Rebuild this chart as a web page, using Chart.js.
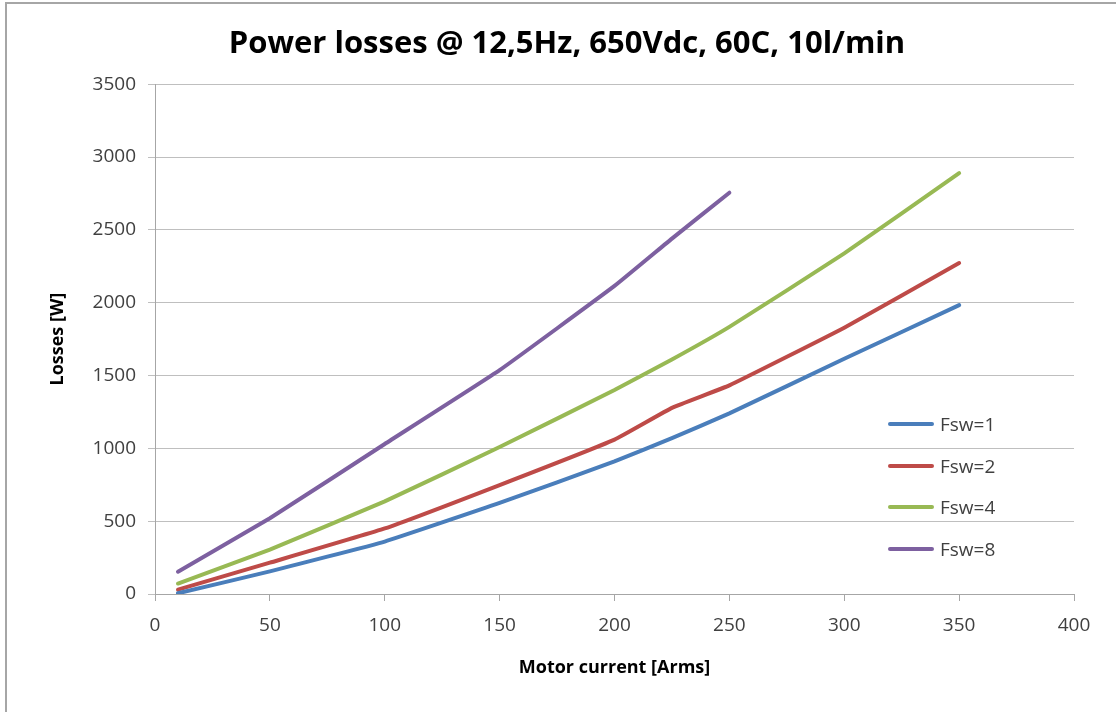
<!DOCTYPE html>
<html>
<head>
<meta charset="utf-8">
<script src="https://cdn.jsdelivr.net/npm/chart.js@4/dist/chart.umd.min.js"></script>
<style>
  html, body { margin: 0; padding: 0; background: #fff; }
  #wrap { position: relative; width: 1116px; height: 712px; overflow: hidden; }
  #frame { position: absolute; left: 5px; top: 2px; width: 1200px; height: 800px;
           border-left: 2px solid #a6a6a6; border-top: 2px solid #a6a6a6; }
  #myChart { position: absolute; left: 0; top: 0; }
  #legend { position: absolute; left: 888px; top: 403px; font-family: 'Open Sans', sans-serif;
            font-size: 19px; color: #404040; }
  .item { display: flex; align-items: center; height: 41.7px; }
  .swatch { width: 46px; height: 4px; border-radius: 2px; margin-right: 6px; }
</style>
</head>
<body>
<div id="wrap">
  <div id="frame"></div>
  <canvas id="myChart" width="1116" height="712"></canvas>
  <div id="legend"></div>
</div>
<script>
// DATA ---------------------------------------------------------------- START
var currentArms = [10, 50, 100, 150, 200, 225, 250, 300, 350];
var lossFsw1 = [5, 155, 360, 625, 910, 1070, 1240, 1615, 1983];
var lossFsw2 = [30, 215, 450, 748, 1060, 1278, 1432, 1828, 2272];
var lossFsw4 = [72, 305, 636, 1009, 1400, 1610, 1834, 2338, 2890];
var lossFsw8 = [153, 520, 1030, 1537, 2115, 2440, 2755, null, null];
var seriesNames = ['Fsw=1', 'Fsw=2', 'Fsw=4', 'Fsw=8'];
var seriesColors = ['#4a7ebb', '#be4b48', '#98b954', '#7d60a0'];
// DATA ---------------------------------------------------------------- END

function toPoints(values) {
  var pts = [];
  for (var i = 0; i < currentArms.length; i++) {
    if (values[i] !== null) pts.push({ x: currentArms[i], y: values[i] });
  }
  return pts;
}

var allSeries = [lossFsw1, lossFsw2, lossFsw4, lossFsw8];
var datasets = allSeries.map(function (vals, i) {
  return {
    label: seriesNames[i],
    data: toPoints(vals),
    borderColor: seriesColors[i],
    backgroundColor: seriesColors[i],
    borderWidth: 4,
    borderCapStyle: 'round',
    pointRadius: 0,
    tension: 0.1,
    fill: false
  };
});

var tickFont = { family: 'Open Sans', size: 19 };
var titleFont = { family: 'Open Sans', size: 18, weight: 'bold' };

var ctx = document.getElementById('myChart').getContext('2d');
var myChart = new Chart(ctx, {
  type: 'line',
  data: { datasets: datasets },
  options: {
    responsive: false,
    animation: false,
    devicePixelRatio: 1,
    // kiri 60 supaya judul tengahnya sama dengan area plot
    layout: { padding: { left: 60, right: 42, top: 0, bottom: 0 } },
    plugins: {
      legend: { display: false },
      tooltip: { enabled: false },
      title: {
        display: true,
        text: 'Power losses @ 12,5Hz, 650Vdc, 60C, 10l/min',
        color: '#000',
        font: { family: 'Open Sans', size: 31, weight: 'bold' },
        padding: { top: 26, bottom: 21 }
      }
    },
    scales: {
      x: {
        type: 'linear',
        min: 0,
        max: 400,
        ticks: { stepSize: 50, color: '#404040', font: tickFont, padding: 13 },
        grid: { drawOnChartArea: false, drawTicks: true, tickLength: 7, color: '#a6a6a6' },
        border: { color: '#a6a6a6', width: 1 },
        title: { display: true, text: 'Motor current [Arms]', color: '#000', font: titleFont,
                 padding: { top: 0, bottom: 33 } },
        afterFit: function (s) { s.height = 118; }
      },
      y: {
        min: 0,
        max: 3500,
        ticks: {
          stepSize: 500, color: '#404040', font: tickFont, padding: 12,
          callback: function (v) { return String(v); }
        },
        grid: { color: '#bfbfbf', tickLength: 7 },
        border: { color: '#a6a6a6', width: 1 },
        title: { display: true, text: 'Losses [W]', color: '#000', font: titleFont,
                 padding: { top: -13, bottom: 0 } },
        afterFit: function (s) { s.width = 95; }
      }
    }
  }
});

// legend html dari dataset
var legendBox = document.getElementById('legend');
myChart.data.datasets.forEach(function (ds) {
  var row = document.createElement('div');
  row.className = 'item';
  var sw = document.createElement('span');
  sw.className = 'swatch';
  sw.style.background = ds.borderColor;
  var txt = document.createElement('span');
  txt.textContent = ds.label;
  row.appendChild(sw);
  row.appendChild(txt);
  legendBox.appendChild(row);
});
</script>
</body>
</html>
